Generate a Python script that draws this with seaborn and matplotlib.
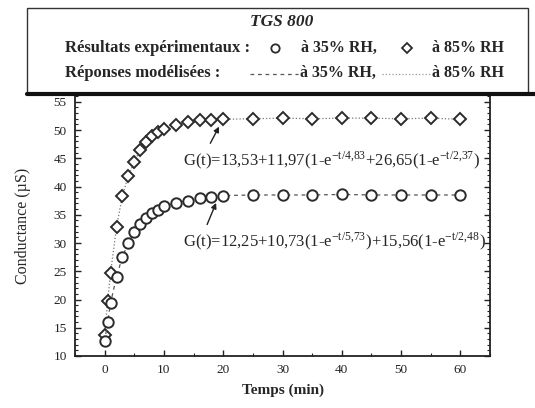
import numpy as np
import pandas as pd
import seaborn as sns
import matplotlib.pyplot as plt
from matplotlib.lines import Line2D
from matplotlib.patches import Rectangle
from matplotlib.ticker import MultipleLocator

# data
temps = [0, 0.5, 1, 2, 3, 4, 5, 6, 7, 8, 9, 10, 12, 14, 16, 18, 20, 25, 30, 35, 40, 45, 50, 55, 60]
g_35 = [12.6, 16.0, 19.4, 24.0, 27.6, 30.0, 31.9, 33.4, 34.4, 35.3, 35.9, 36.5, 37.1, 37.5, 37.9, 38.1, 38.4,
        38.5, 38.5, 38.5, 38.6, 38.5, 38.5, 38.5, 38.5]
g_85 = [13.8, 19.7, 24.7, 32.8, 38.4, 41.9, 44.4, 46.5, 47.9, 48.9, 49.6, 50.1, 50.9, 51.5, 51.7, 51.8, 51.9,
        52.0, 52.1, 52.0, 52.1, 52.1, 52.0, 52.1, 51.9]
eq_85 = r"G(t)=13,53+11,97(1-e$^{\mathdefault{-t/4{,}83}}$+26,65(1-e$^{\mathdefault{-t/2{,}37}}$)"
eq_35 = r"G(t)=12,25+10,73(1-e$^{\mathdefault{-t/5{,}73}}$)+15,56(1-e$^{\mathdefault{-t/2{,}48}}$)"

df = pd.DataFrame({"temps": temps, "g35": g_35, "g85": g_85})

sns.set_style("ticks")
plt.rcParams["font.family"] = ["Liberation Serif", "DejaVu Serif"]
plt.rcParams["mathtext.fontset"] = "stix"

W, H = 535, 408
fig = plt.figure(figsize=(W / 100, H / 100), dpi=100)
ax = fig.add_axes([75 / W, 1 - 356 / H, 415 / W, 261 / H])

def fx(x):
    return x / W

def fy(y):
    return 1 - y / H

dark = "#2b2b2b"
sns.lineplot(data=df, x="temps", y="g85", ax=ax, marker="D", markersize=6, color="#777777",
             linestyle=":", linewidth=0.9, markerfacecolor="white", markeredgecolor=dark, markeredgewidth=1.4)
sns.lineplot(data=df, x="temps", y="g35", ax=ax, marker="o", markersize=7.5, color="#555555",
             linestyle=(0, (3, 3)), linewidth=0.9, markerfacecolor="white", markeredgecolor=dark,
             markeredgewidth=1.4)

ax.set_xlim(-5, 65)
ax.set_ylim(10, 56.2)
ax.xaxis.set_major_locator(MultipleLocator(10))
ax.xaxis.set_minor_locator(MultipleLocator(5))
ax.yaxis.set_major_locator(MultipleLocator(5))
ax.yaxis.set_minor_locator(MultipleLocator(1))
ax.tick_params(which="both", direction="in", right=True, labelsize=9.5, colors="#222222", pad=6)
ax.tick_params(which="major", length=4, width=1)
ax.tick_params(which="minor", length=2, width=0.8)
for s in ax.spines.values():
    s.set_linewidth(1.3)
    s.set_color("#222222")

ax.set_xlabel("Temps (min)", fontsize=11, fontweight="bold", labelpad=5)
ax.set_ylabel("Conductance (µS)", fontsize=11.5, labelpad=16)

# equations with arrows
ax.annotate(eq_85, xy=(19.3, 50.6), xytext=(13.3, 44.7), fontsize=12, ha="left", va="center",
            textcoords="data", arrowprops=dict(arrowstyle="-|>", color="#222222", lw=1, mutation_scale=8,
                                               shrinkA=2, shrinkB=0, relpos=(0.08, 1.0)))
ax.annotate(eq_35, xy=(18.8, 37.1), xytext=(13.3, 30.3), fontsize=12, ha="left", va="center",
            textcoords="data", arrowprops=dict(arrowstyle="-|>", color="#222222", lw=1, mutation_scale=8,
                                               shrinkA=2, shrinkB=0, relpos=(0.07, 1.0)))

# legend box drawn in figure coords
fig.patches.append(Rectangle((fx(27), fy(93)), fx(501), 85 / H, transform=fig.transFigure,
                             facecolor="white", edgecolor="#333333", linewidth=1.0))
fig.add_artist(Line2D([fx(27), fx(535)], [fy(94), fy(94)], color="#111111", linewidth=3,
                      transform=fig.transFigure))
fig.text(fx(282), fy(22), "TGS 800", fontsize=12.5, fontweight="bold", style="italic", ha="center", va="center")
fig.text(fx(65), fy(48), "Résultats expérimentaux :", fontsize=12, fontweight="bold", ha="left", va="center")
fig.text(fx(65), fy(73), "Réponses modélisées :", fontsize=12, fontweight="bold", ha="left", va="center")
fig.add_artist(Line2D([fx(275)], [fy(48)], marker="o", markersize=6, markerfacecolor="white",
                      markeredgecolor=dark, markeredgewidth=1.3, transform=fig.transFigure))
fig.add_artist(Line2D([fx(407)], [fy(48)], marker="D", markersize=5.5, markerfacecolor="white",
                      markeredgecolor=dark, markeredgewidth=1.3, transform=fig.transFigure))
fig.text(fx(301), fy(48), "à 35% RH,", fontsize=11.5, fontweight="bold", ha="left", va="center")
fig.text(fx(432), fy(48), "à 85% RH", fontsize=11.5, fontweight="bold", ha="left", va="center")
fig.add_artist(Line2D([fx(250), fx(298)], [fy(74), fy(74)], color="#555555", linewidth=0.9,
                      linestyle=(0, (3, 3)), transform=fig.transFigure))
fig.add_artist(Line2D([fx(382), fx(430)], [fy(74), fy(74)], color="#999999", linewidth=0.9,
                      linestyle=":", transform=fig.transFigure))
fig.text(fx(300), fy(73), "à 35% RH,", fontsize=11.5, fontweight="bold", ha="left", va="center")
fig.text(fx(432), fy(73), "à 85% RH", fontsize=11.5, fontweight="bold", ha="left", va="center")

fig.savefig("out.png", dpi=100)
